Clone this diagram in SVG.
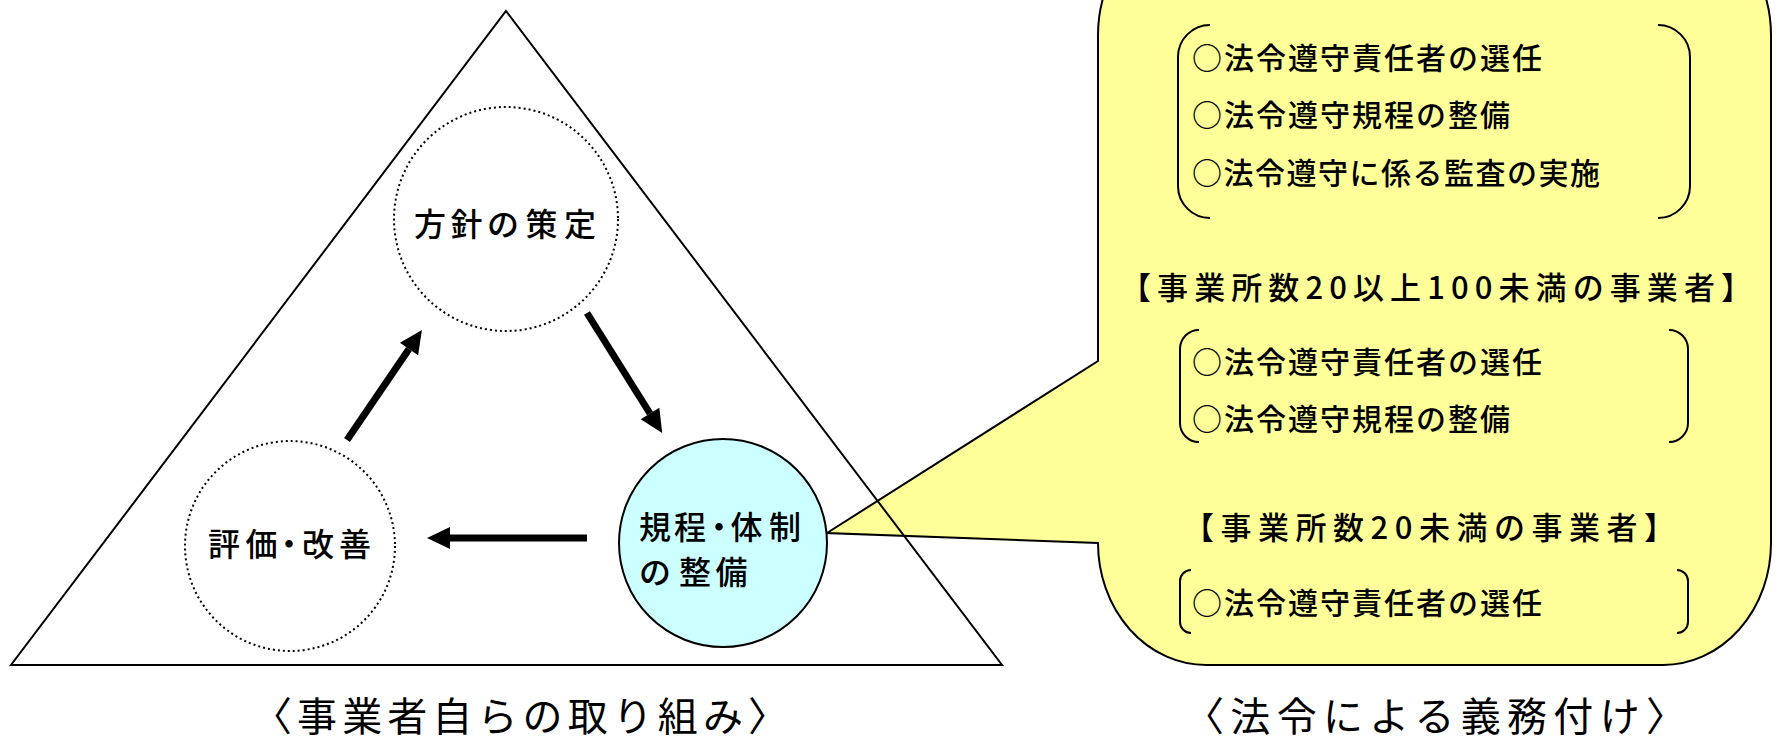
<svg xmlns="http://www.w3.org/2000/svg" width="1776" height="741" viewBox="0 0 1776 741">
<style>
text{font-family:"Noto Sans CJK JP","Noto Sans CJK SC",sans-serif;fill:#000;font-weight:500}
.ln{fill:none;stroke:#000;stroke-width:2}
.dot{fill:#fff;stroke:#000;stroke-width:2;stroke-dasharray:2 3}
.node{font-size:32px}
.item{font-size:30px}
.head{font-size:31px}
.cap{font-size:40px;font-weight:400}
.arr{stroke:#000;stroke-width:7;fill:none}
</style>
<defs>
<marker id="ah" markerUnits="userSpaceOnUse" markerWidth="24" markerHeight="22" refX="0" refY="11" orient="auto" overflow="visible">
<path d="M0,0 L23,11 L0,22 Z" fill="#000"/>
</marker>
</defs>
<rect width="1776" height="741" fill="#fff"/>
<g id="balloon">
<path d="M827,533 L1098,361 L1098,35 A108 122 0 0 1 1206,-87 L1663,-87 A108 122 0 0 1 1771,35 L1771,543 A108 122 0 0 1 1663,665 L1206,665 A108 122 0 0 1 1098,543 Z" fill="#ffff99" stroke="#000" stroke-width="2"/>
<path class="ln" d="M1210,25 A32 32 0 0 0 1178,57 L1178,186 A32 32 0 0 0 1210,218 M1658,25 A32 32 0 0 1 1690,57 L1690,186 A32 32 0 0 1 1658,218"/>
<text class="item" x="1192" y="69" textLength="350" lengthAdjust="spacing">○法令遵守責任者の選任</text>
<text class="item" x="1192" y="126" textLength="318" lengthAdjust="spacing">○法令遵守規程の整備</text>
<text class="item" x="1192" y="184" textLength="408" lengthAdjust="spacing">○法令遵守に係る監査の実施</text>
<text class="head" x="1436" y="299" text-anchor="middle" textLength="632" lengthAdjust="spacing">【事業所数20以上100未満の事業者】</text>
<path class="ln" d="M1199,330 A19 19 0 0 0 1180,349 L1180,423 A19 19 0 0 0 1199,442 M1669,330 A19 19 0 0 1 1688,349 L1688,423 A19 19 0 0 1 1669,442"/>
<text class="item" x="1192" y="373" textLength="350" lengthAdjust="spacing">○法令遵守責任者の選任</text>
<text class="item" x="1192" y="430" textLength="318" lengthAdjust="spacing">○法令遵守規程の整備</text>
<text class="head" x="1429" y="539" text-anchor="middle" textLength="492" lengthAdjust="spacing">【事業所数20未満の事業者】</text>
<path class="ln" d="M1191,570 A11 11 0 0 0 1180,581 L1180,622 A11 11 0 0 0 1191,633 M1677,570 A11 11 0 0 1 1688,581 L1688,622 A11 11 0 0 1 1677,633"/>
<text class="item" x="1192" y="614" textLength="350" lengthAdjust="spacing">○法令遵守責任者の選任</text>
</g>
<g id="triangle">
<path class="ln" d="M506,11 L1002,665 L11,665 Z"/>
</g>
<g id="node-policy">
<circle class="dot" cx="506" cy="219" r="112"/>
<text class="node" x="414 450.5 487 525.5 564" y="236">方針の策定</text>
</g>
<g id="node-eval">
<circle class="dot" cx="290" cy="546" r="105"/>
<text class="node" x="208 245.5 273 302 339" y="556">評価・改善</text>
</g>
<g id="node-rules">
<circle cx="723" cy="543" r="104" fill="#ccffff" stroke="#000" stroke-width="2"/>
<text class="node" x="639 674 703 730.5 769" y="539">規程・体制</text>
<text class="node" x="639 679 715.5" y="584">の整備</text>
</g>
<g id="connectors">
<line class="arr" x1="347" y1="440" x2="409" y2="349" marker-end="url(#ah)"/>
<line class="arr" x1="587" y1="313" x2="650" y2="413.5" marker-end="url(#ah)"/>
<line class="arr" x1="587" y1="538" x2="450" y2="538" marker-end="url(#ah)"/>
</g>
<g id="captions">
<text class="cap" x="520" y="731" text-anchor="middle" textLength="536" lengthAdjust="spacing">〈事業者自らの取り組み〉</text>
<text class="cap" x="1435" y="731" text-anchor="middle" textLength="502" lengthAdjust="spacing">〈法令による義務付け〉</text>
</g>
</svg>
